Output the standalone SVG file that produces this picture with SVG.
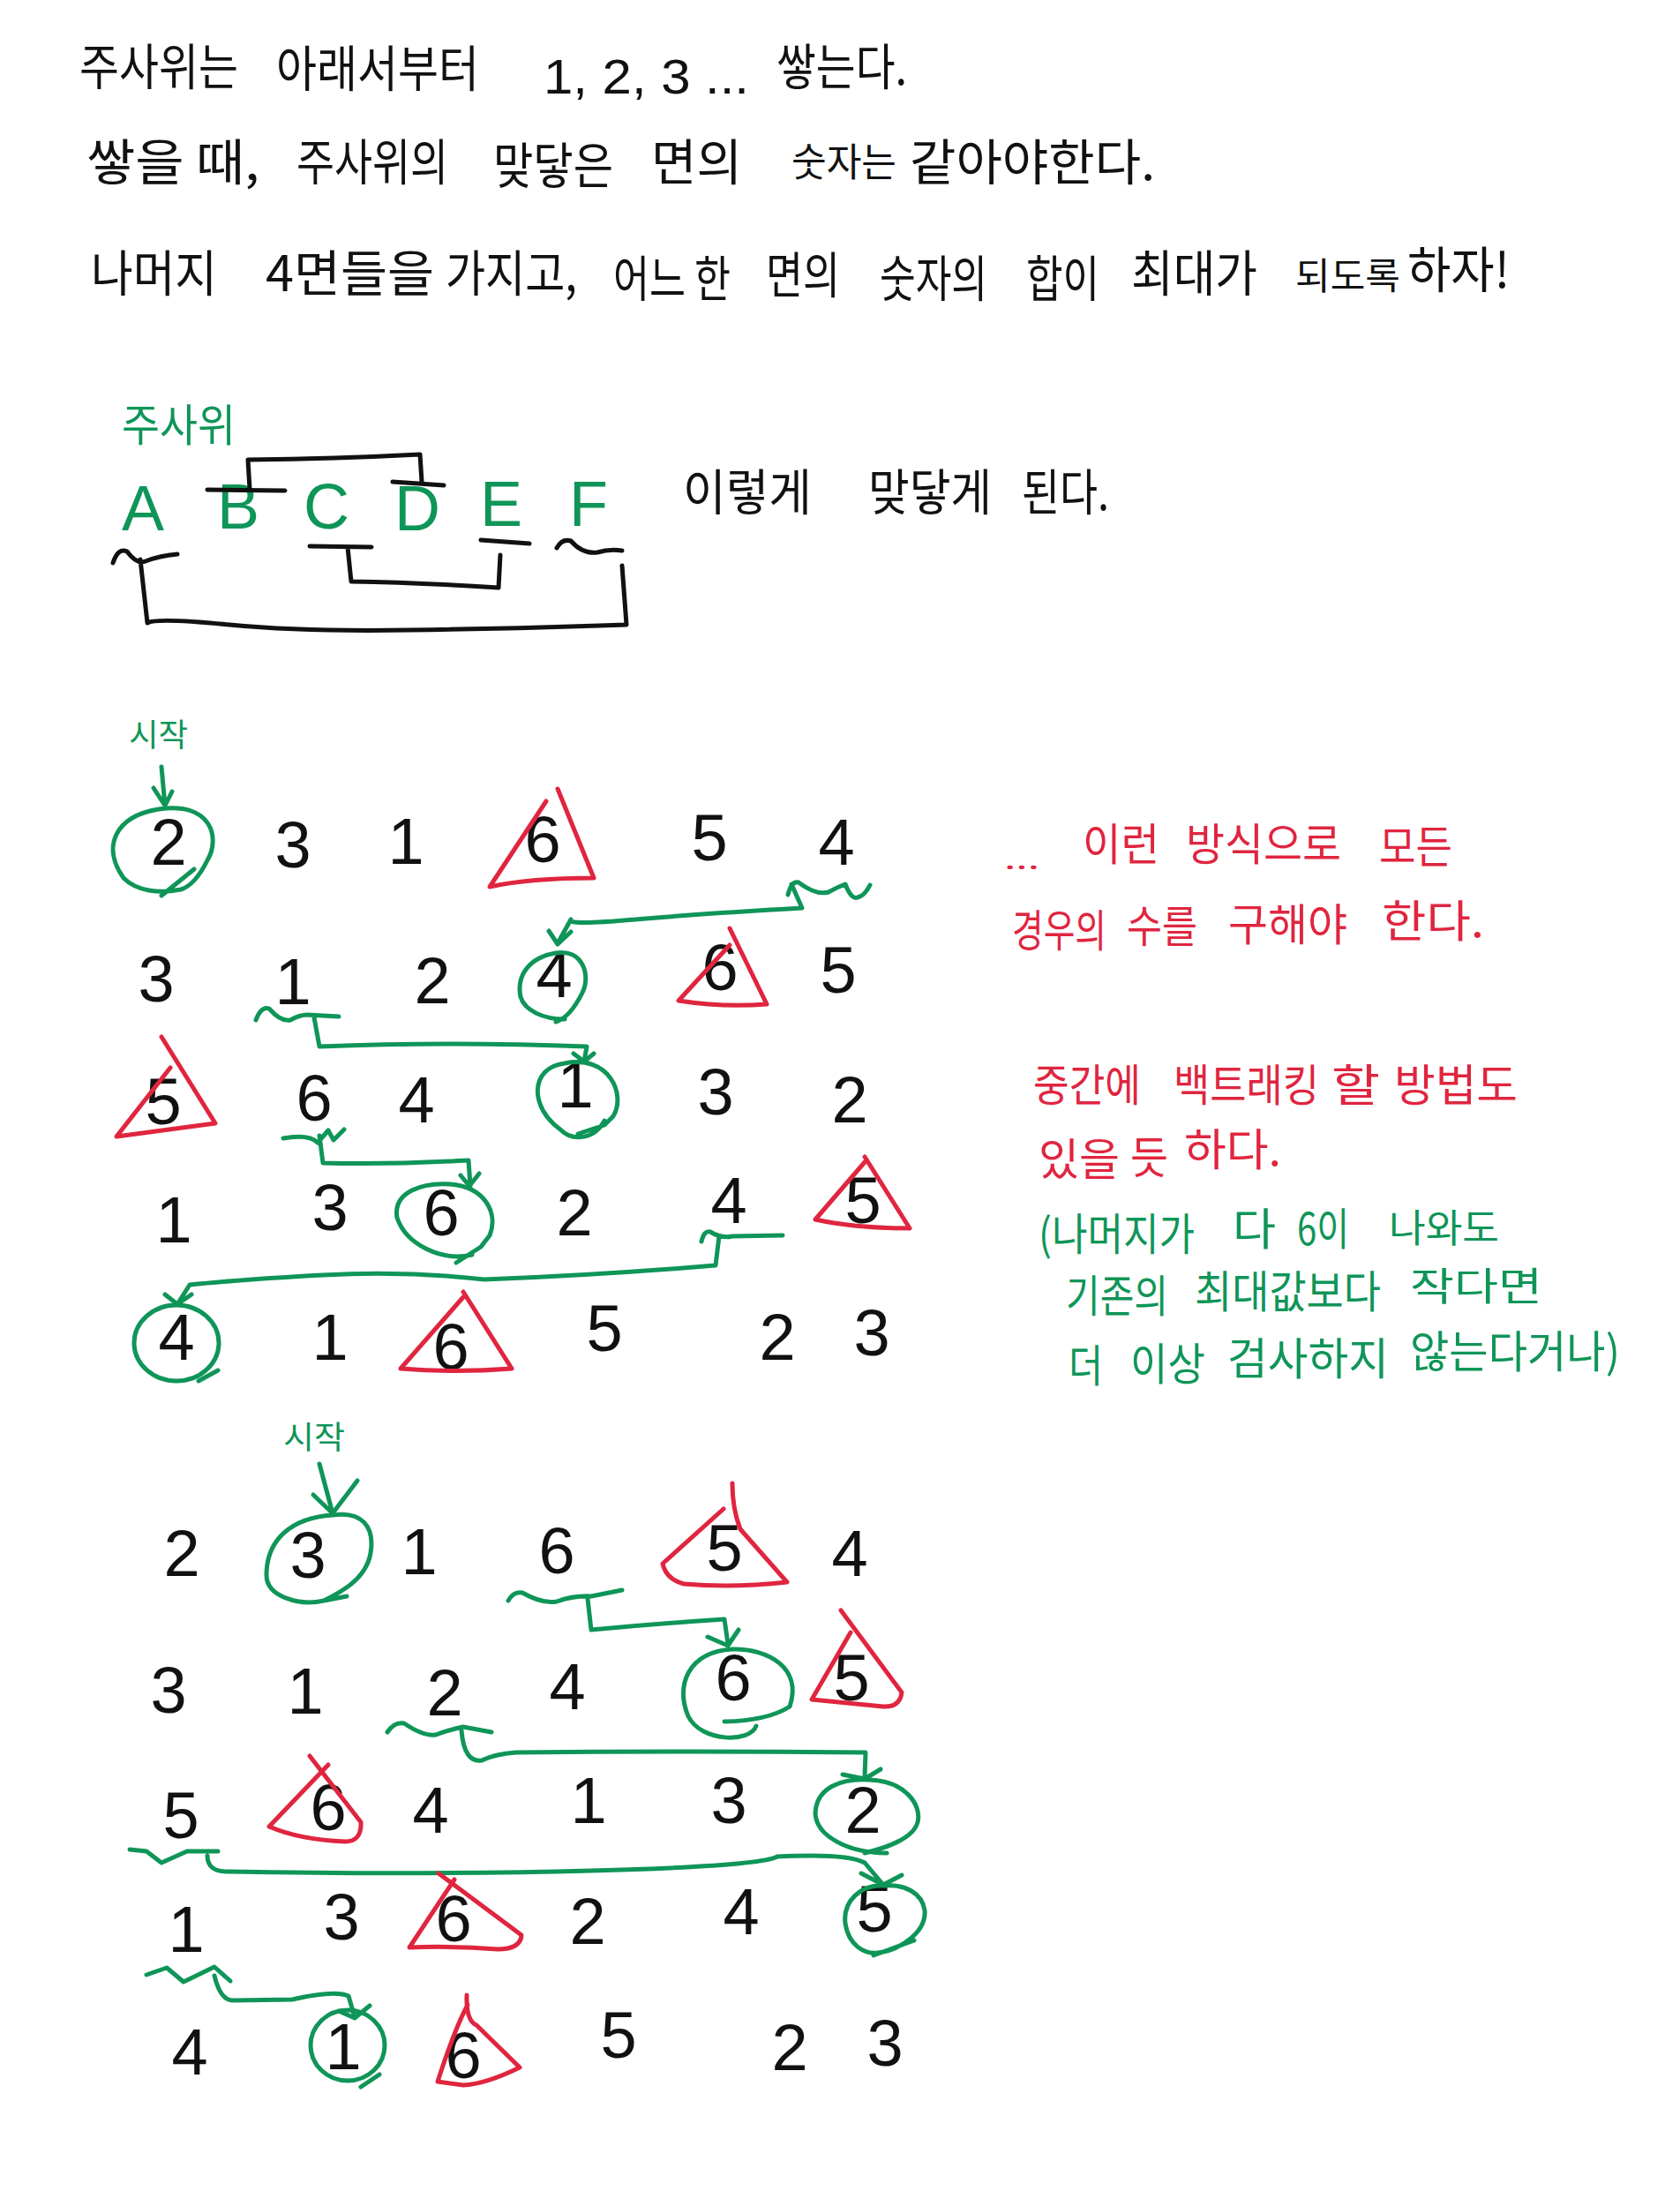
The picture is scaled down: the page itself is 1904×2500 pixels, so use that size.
<svg xmlns="http://www.w3.org/2000/svg" width="1904" height="2500" viewBox="0 0 1904 2500">
<style>
text{font-family:"Noto Sans CJK KR","Noto Sans",sans-serif;fill:#111}
.k{font-size:56px}
.m{font-size:50px}
.s{font-size:36px}
.g{fill:#0f9558}
.r{fill:#e0253f}
.d{font-family:"Liberation Sans",sans-serif;font-size:74px;text-anchor:middle;fill:#111;transform:translate(-4px,-4px)}
.l{font-family:"Liberation Sans Narrow","Liberation Sans",sans-serif;font-size:72px;text-anchor:middle;fill:#0f9558}
.b{fill:none;stroke:#111;stroke-width:5;stroke-linecap:round;stroke-linejoin:round}
.gs{fill:none;stroke:#0f9558;stroke-width:5;stroke-linecap:round;stroke-linejoin:round}
.rs{fill:none;stroke:#e0253f;stroke-width:5;stroke-linecap:round;stroke-linejoin:round}
</style>
<rect width="1904" height="2500" fill="#fff"/>
<g id="intro">
<text class="k" x="90" y="96" textLength="180" lengthAdjust="spacingAndGlyphs">주사위는</text>
<text class="k" x="313" y="98" textLength="230" lengthAdjust="spacingAndGlyphs">아래서부터</text>
<text class="k" x="616" y="106" textLength="233" lengthAdjust="spacingAndGlyphs" style="font-family:'Liberation Sans',sans-serif">1, 2, 3 ...</text>
<text class="k" x="880" y="96" textLength="148" lengthAdjust="spacingAndGlyphs">쌓는다.</text>
<text class="k" x="98" y="204" textLength="196" lengthAdjust="spacingAndGlyphs">쌓을 때,</text>
<text class="k" x="336" y="204" textLength="172" lengthAdjust="spacingAndGlyphs">주사위의</text>
<text class="k" x="559" y="208" textLength="136" lengthAdjust="spacingAndGlyphs">맞닿은</text>
<text class="k" x="738" y="204" textLength="103" lengthAdjust="spacingAndGlyphs">면의</text>
<text class="k" x="897" y="200" textLength="119" lengthAdjust="spacingAndGlyphs" style="font-size:44px">숫자는</text>
<text class="k" x="1031" y="204" textLength="278" lengthAdjust="spacingAndGlyphs">같아야한다.</text>
<text class="k" x="103" y="330" textLength="143" lengthAdjust="spacingAndGlyphs">나머지</text>
<text class="k" x="301" y="330" textLength="191" lengthAdjust="spacingAndGlyphs">4면들을</text>
<text class="k" x="505" y="330" textLength="149" lengthAdjust="spacingAndGlyphs">가지고,</text>
<text class="k" x="695" y="336" textLength="133" lengthAdjust="spacingAndGlyphs">어느 한</text>
<text class="k" x="868" y="332" textLength="84" lengthAdjust="spacingAndGlyphs">면의</text>
<text class="k" x="997" y="336" textLength="122" lengthAdjust="spacingAndGlyphs">숫자의</text>
<text class="k" x="1163" y="336" textLength="83" lengthAdjust="spacingAndGlyphs">합이</text>
<text class="k" x="1282" y="330" textLength="143" lengthAdjust="spacingAndGlyphs">최대가</text>
<text class="k" x="1468" y="328" textLength="119" lengthAdjust="spacingAndGlyphs" style="font-size:42px">되도록</text>
<text class="k" x="1595" y="326" textLength="116" lengthAdjust="spacingAndGlyphs">하자!</text>
</g>
<g id="dice-labels">
<text class="m g" x="138" y="500" textLength="129" lengthAdjust="spacingAndGlyphs">주사위</text>
<text class="l" x="162" y="601">A</text>
<text class="l" x="270" y="599">B</text>
<text class="l" x="370" y="599">C</text>
<text class="l" x="473" y="601">D</text>
<text class="l" x="568" y="596">E</text>
<text class="l" x="667" y="596">F</text>
<text class="k" x="774" y="578" textLength="146" lengthAdjust="spacingAndGlyphs">이렇게</text>
<text class="k" x="984" y="578" textLength="140" lengthAdjust="spacingAndGlyphs">맞닿게</text>
<text class="k" x="1158" y="578" textLength="99" lengthAdjust="spacingAndGlyphs">된다.</text>
</g>
<g id="connectors">
<path class="b" d="M235 555L323 556M283 554L281 521Q380 520 476 515L478 546M445 546L503 550"/>
<path class="b" d="M351 619L421 620M394 620L398 659Q470 660 565 666L567 629M545 612L600 616"/>
<path class="b" d="M128 638Q134 620 144 625Q155 640 165 636Q180 630 201 628M159 634L167 706Q177 700 260 708T464 714Q600 712 710 708L705 641M631 621Q637 610 647 613Q660 628 677 626Q690 622 705 624"/>
<path class="gs" d="M183 869L187 913M174 893L187 913L195 897"/>
<path class="gs" d="M893 1014Q897 998 905 1000Q925 1015 939 1011Q950 1005 958 1002Q965 1020 972 1017Q980 1015 986 1003M897 1002L909 1029Q800 1035 720 1042T647 1042L632 1069M622 1055L632 1070L647 1056"/>
<path class="gs" d="M290 1156Q296 1140 305 1143Q318 1158 329 1156Q340 1150 348 1150L384 1152M356 1153L362 1186Q510 1180 665 1186L662 1203M650 1194L662 1203L673 1194"/>
<path class="gs" d="M321 1290Q350 1285 360 1295L372 1281L378 1292L390 1280M362 1287L366 1318Q440 1320 531 1315L533 1344M522 1332L532 1344L543 1330"/>
<path class="gs" d="M795 1407Q798 1394 805 1396Q818 1404 830 1401L887 1400M815 1401L811 1434Q680 1445 549 1450Q460 1440 366 1445T215 1456L201 1478M187 1467L201 1478L217 1467"/>
<path class="gs" d="M362 1659L377 1715M355 1694L377 1715L405 1678"/>
<path class="gs" d="M576 1814Q582 1803 592 1805Q615 1818 631 1815Q650 1808 670 1809L705 1802M666 1812L670 1847Q745 1840 821 1835L825 1863M802 1855L825 1865L837 1847"/>
<path class="gs" d="M439 1963Q447 1951 458 1953Q480 1968 494 1966Q510 1960 525 1957L557 1963M523 1961Q526 1998 546 1995Q560 1988 585 1986Q780 1984 981 1986L980 2013M955 2011L980 2016L998 2005"/>
<path class="gs" d="M147 2096L166 2098L183 2111L212 2098L247 2098M235 2103Q235 2122 260 2121Q480 2125 670 2120T881 2104Q960 2100 980 2111L1001 2136M976 2123L1001 2136L1022 2125"/>
<path class="gs" d="M166 2238L189 2230L208 2246L243 2229L261 2245M243 2239Q250 2268 265 2267L331 2266Q380 2255 395 2262L402 2286M384 2279L402 2287L419 2273"/>
</g>
<g id="start-labels">
<text class="s g" x="146" y="846" textLength="67" lengthAdjust="spacingAndGlyphs">시작</text>
<text class="s g" x="321" y="1642" textLength="70" lengthAdjust="spacingAndGlyphs">시작</text>
</g>
<g id="stack-1">
<g id="n1-1"><text class="d" x="195" y="984">2</text><path class="gs" d="M140 995C115 960 130 925 180 917C240 908 250 950 235 975C225 995 215 1005 205 1008C180 1013 155 1010 140 995M183 1015L220 985"/></g>
<g id="n1-2"><text class="d" x="336" y="987">3</text></g>
<g id="n1-3"><text class="d" x="464" y="983">1</text></g>
<g id="n1-4"><text class="d" x="619" y="981">6</text><path class="rs" d="M632 894L673 995Q600 995 555 1005L619 908"/></g>
<g id="n1-5"><text class="d" x="808" y="979">5</text></g>
<g id="n1-6"><text class="d" x="952" y="984">4</text></g>
<g id="n1-7"><text class="d" x="181" y="1139">3</text></g>
<g id="n1-8"><text class="d" x="336" y="1142">1</text></g>
<g id="n1-9"><text class="d" x="494" y="1141">2</text></g>
<g id="n1-10"><text class="d" x="632" y="1134">4</text><path class="gs" d="M630 1080C600 1085 585 1105 590 1130C595 1145 615 1155 640 1155M630 1080C660 1075 670 1105 660 1125C650 1145 640 1155 630 1158"/></g>
<g id="n1-11"><text class="d" x="820" y="1126">6</text><path class="rs" d="M827 1052L869 1138Q820 1142 769 1134L827 1071"/></g>
<g id="n1-12"><text class="d" x="954" y="1129">5</text></g>
<g id="n1-13"><text class="d" x="189" y="1278">5</text><path class="rs" d="M183 1175L244 1273Q190 1280 132 1288L193 1210"/></g>
<g id="n1-14"><text class="d" x="360" y="1274">6</text></g>
<g id="n1-15"><text class="d" x="476" y="1276">4</text></g>
<g id="n1-16"><text class="d" x="656" y="1259">1</text><path class="gs" d="M685 1270C675 1290 650 1295 635 1280C600 1255 600 1210 640 1205C690 1195 710 1240 695 1265L685 1275L655 1285"/></g>
<g id="n1-17"><text class="d" x="815" y="1267">3</text></g>
<g id="n1-18"><text class="d" x="967" y="1276">2</text></g>
<g id="n1-19"><text class="d" x="201" y="1412">1</text></g>
<g id="n1-20"><text class="d" x="378" y="1398">3</text></g>
<g id="n1-21"><text class="d" x="504" y="1404">6</text><path class="gs" d="M535 1422C500 1430 460 1410 450 1380C445 1350 480 1340 510 1342C550 1345 565 1375 555 1400L545 1413L517 1431"/></g>
<g id="n1-22"><text class="d" x="655" y="1404">2</text></g>
<g id="n1-23"><text class="d" x="830" y="1390">4</text></g>
<g id="n1-24"><text class="d" x="982" y="1390">5</text><path class="rs" d="M980 1311L1031 1392Q970 1392 924 1382L980 1317"/></g>
<g id="n1-25"><text class="d" x="204" y="1545">4</text><ellipse class="gs" cx="200" cy="1522" rx="48" ry="43"/><path class="gs" d="M225 1565L247 1553"/></g>
<g id="n1-26"><text class="d" x="378" y="1545">1</text></g>
<g id="n1-27"><text class="d" x="515" y="1556">6</text><path class="rs" d="M525 1464L580 1551Q515 1556 454 1551L525 1470"/></g>
<g id="n1-28"><text class="d" x="689" y="1535">5</text></g>
<g id="n1-29"><text class="d" x="885" y="1545">2</text></g>
<g id="n1-30"><text class="d" x="992" y="1540">3</text></g>
</g>
<g id="notes">
<text class="m r" x="1138" y="985" textLength="40" lengthAdjust="spacingAndGlyphs" style="font-size:30px">...</text>
<text class="m r" x="1227" y="975" textLength="87" lengthAdjust="spacingAndGlyphs">이런</text>
<text class="m r" x="1344" y="975" textLength="176" lengthAdjust="spacingAndGlyphs">방식으로</text>
<text class="m r" x="1563" y="978" textLength="83" lengthAdjust="spacingAndGlyphs">모든</text>
<text class="m r" x="1147" y="1073" textLength="107" lengthAdjust="spacingAndGlyphs">경우의</text>
<text class="m r" x="1277" y="1068" textLength="80" lengthAdjust="spacingAndGlyphs">수를</text>
<text class="m r" x="1392" y="1066" textLength="135" lengthAdjust="spacingAndGlyphs">구해야</text>
<text class="m r" x="1566" y="1062" textLength="116" lengthAdjust="spacingAndGlyphs">한다.</text>
<text class="m r" x="1171" y="1248" textLength="122" lengthAdjust="spacingAndGlyphs">중간에</text>
<text class="m r" x="1330" y="1248" textLength="165" lengthAdjust="spacingAndGlyphs">백트래킹</text>
<text class="m r" x="1509" y="1248" textLength="55" lengthAdjust="spacingAndGlyphs">할</text>
<text class="m r" x="1580" y="1248" textLength="140" lengthAdjust="spacingAndGlyphs">방법도</text>
<text class="m r" x="1177" y="1332" textLength="92" lengthAdjust="spacingAndGlyphs">있을</text>
<text class="m r" x="1281" y="1330" textLength="43" lengthAdjust="spacingAndGlyphs">듯</text>
<text class="m r" x="1342" y="1321" textLength="110" lengthAdjust="spacingAndGlyphs">하다.</text>
<text class="m g" x="1177" y="1417" textLength="177" lengthAdjust="spacingAndGlyphs">(나머지가</text>
<text class="m g" x="1397" y="1411" textLength="49" lengthAdjust="spacingAndGlyphs">다</text>
<text class="m g" x="1470" y="1411" textLength="59" lengthAdjust="spacingAndGlyphs">6이</text>
<text class="m g" x="1574" y="1408" textLength="125" lengthAdjust="spacingAndGlyphs" style="font-size:44px">나와도</text>
<text class="m g" x="1208" y="1487" textLength="116" lengthAdjust="spacingAndGlyphs">기존의</text>
<text class="m g" x="1354" y="1482" textLength="211" lengthAdjust="spacingAndGlyphs">최대값보다</text>
<text class="m g" x="1598" y="1474" textLength="150" lengthAdjust="spacingAndGlyphs" style="font-size:44px">작다면</text>
<text class="m g" x="1211" y="1566" textLength="39" lengthAdjust="spacingAndGlyphs">더</text>
<text class="m g" x="1281" y="1564" textLength="85" lengthAdjust="spacingAndGlyphs">이상</text>
<text class="m g" x="1391" y="1558" textLength="183" lengthAdjust="spacingAndGlyphs">검사하지</text>
<text class="m g" x="1598" y="1550" textLength="238" lengthAdjust="spacingAndGlyphs">않는다거나)</text>
</g>
<g id="stack-2">
<g id="n2-1"><text class="d" x="210" y="1790">2</text></g>
<g id="n2-2"><text class="d" x="353" y="1792">3</text><path class="gs" d="M377 1717C330 1720 302 1745 302 1785C302 1810 340 1820 367 1814L393 1809M367 1814C385 1805 415 1790 420 1760C425 1730 410 1712 377 1717"/></g>
<g id="n2-3"><text class="d" x="479" y="1788">1</text></g>
<g id="n2-4"><text class="d" x="635" y="1787">6</text></g>
<g id="n2-5"><text class="d" x="825" y="1784">5</text><path class="rs" d="M830 1681Q830 1710 839 1733L892 1793Q830 1800 775 1795Q755 1790 751 1772L820 1710"/></g>
<g id="n2-6"><text class="d" x="967" y="1790">4</text></g>
<g id="n2-7"><text class="d" x="195" y="1945">3</text></g>
<g id="n2-8"><text class="d" x="350" y="1946">1</text></g>
<g id="n2-9"><text class="d" x="508" y="1948">2</text></g>
<g id="n2-10"><text class="d" x="647" y="1941">4</text></g>
<g id="n2-11"><text class="d" x="835" y="1931">6</text><path class="gs" d="M821 1951Q870 1950 895 1934C910 1890 870 1868 830 1869C780 1872 765 1910 780 1945C795 1975 850 1975 857 1956"/></g>
<g id="n2-12"><text class="d" x="969" y="1931">5</text><path class="rs" d="M953 1825L1022 1918Q1020 1935 1001 1934L920 1926L964 1850"/></g>
<g id="n2-13"><text class="d" x="209" y="2087">5</text></g>
<g id="n2-14"><text class="d" x="376" y="2078">6</text><path class="rs" d="M351 1990L409 2065Q410 2087 391 2087Q340 2085 305 2070L372 2000"/></g>
<g id="n2-15"><text class="d" x="492" y="2081">4</text></g>
<g id="n2-16"><text class="d" x="671" y="2070">1</text></g>
<g id="n2-17"><text class="d" x="830" y="2070">3</text></g>
<g id="n2-18"><text class="d" x="982" y="2081">2</text><path class="gs" d="M1005 2100C960 2100 925 2080 924 2055C925 2025 955 2015 985 2017C1025 2018 1045 2045 1040 2065C1035 2085 1000 2095 980 2100"/></g>
<g id="n2-19"><text class="d" x="215" y="2216">1</text></g>
<g id="n2-20"><text class="d" x="391" y="2202">3</text></g>
<g id="n2-21"><text class="d" x="518" y="2204">6</text><path class="rs" d="M497 2123L591 2193Q590 2209 564 2209Q510 2205 464 2207L515 2130"/></g>
<g id="n2-22"><text class="d" x="670" y="2207">2</text></g>
<g id="n2-23"><text class="d" x="844" y="2196">4</text></g>
<g id="n2-24"><text class="d" x="995" y="2193">5</text><path class="gs" d="M1003 2137C975 2135 955 2155 958 2180C962 2205 980 2215 995 2213C1020 2210 1050 2190 1048 2165C1045 2145 1025 2135 1003 2137M990 2216L1036 2199"/></g>
<g id="n2-25"><text class="d" x="219" y="2355">4</text></g>
<g id="n2-26"><text class="d" x="393" y="2349">1</text><ellipse class="gs" cx="394" cy="2318" rx="42" ry="40"/><path class="gs" d="M409 2365L430 2351"/></g>
<g id="n2-27"><text class="d" x="529" y="2359">6</text><path class="rs" d="M529 2261Q528 2290 540 2295L589 2343Q550 2362 525 2363L496 2359Q515 2300 530 2272"/></g>
<g id="n2-28"><text class="d" x="705" y="2336">5</text></g>
<g id="n2-29"><text class="d" x="899" y="2350">2</text></g>
<g id="n2-30"><text class="d" x="1007" y="2345">3</text></g>
</g>
</svg>
